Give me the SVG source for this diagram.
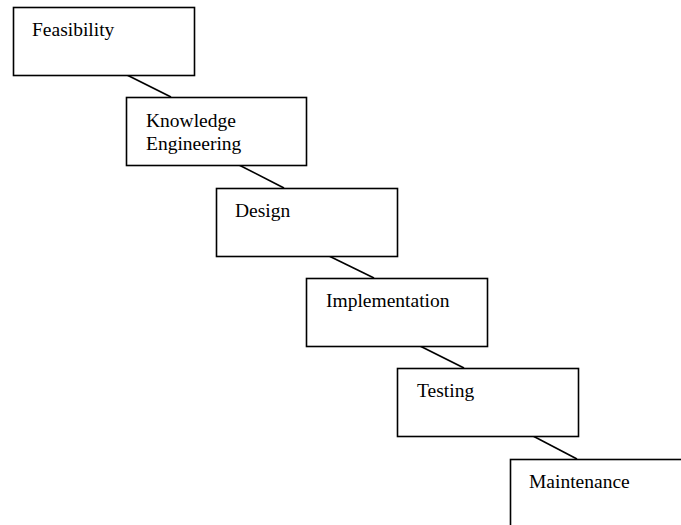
<svg xmlns="http://www.w3.org/2000/svg" width="681" height="525" viewBox="0 0 681 525">
  <style>
    .box { fill: #ffffff; stroke: #000000; stroke-width: 1.6; }
    .link { stroke: #000000; stroke-width: 1.6; fill: none; }
    .label { font-family: "Liberation Serif", "Times New Roman", serif; font-size: 19.5px; fill: #000000; }
  </style>
  <rect width="681" height="525" fill="#ffffff"/>
  <g id="connectors">
    <line class="link" x1="127" y1="75" x2="171" y2="97"/>
    <line class="link" x1="239" y1="165" x2="284" y2="188"/>
    <line class="link" x1="329" y1="256" x2="374" y2="278"/>
    <line class="link" x1="420" y1="346" x2="464" y2="368"/>
    <line class="link" x1="533" y1="436" x2="577" y2="459"/>
  </g>
  <g id="feasibility">
    <rect class="box" x="13.5" y="7.5" width="181" height="68"/>
    <text class="label" x="32" y="36">Feasibility</text>
  </g>
  <g id="knowledge-engineering">
    <rect class="box" x="126.5" y="97.5" width="180" height="68"/>
    <text class="label" x="146" y="127">Knowledge</text>
    <text class="label" x="146" y="149.5">Engineering</text>
  </g>
  <g id="design">
    <rect class="box" x="216.5" y="188.5" width="181" height="68"/>
    <text class="label" x="235" y="217">Design</text>
  </g>
  <g id="implementation">
    <rect class="box" x="306.5" y="278.5" width="181" height="68"/>
    <text class="label" x="326" y="307">Implementation</text>
  </g>
  <g id="testing">
    <rect class="box" x="397.5" y="368.5" width="181" height="68"/>
    <text class="label" x="417" y="397">Testing</text>
  </g>
  <g id="maintenance">
    <rect class="box" x="510.5" y="459.5" width="181" height="68"/>
    <text class="label" x="529" y="487.5">Maintenance</text>
  </g>
</svg>
